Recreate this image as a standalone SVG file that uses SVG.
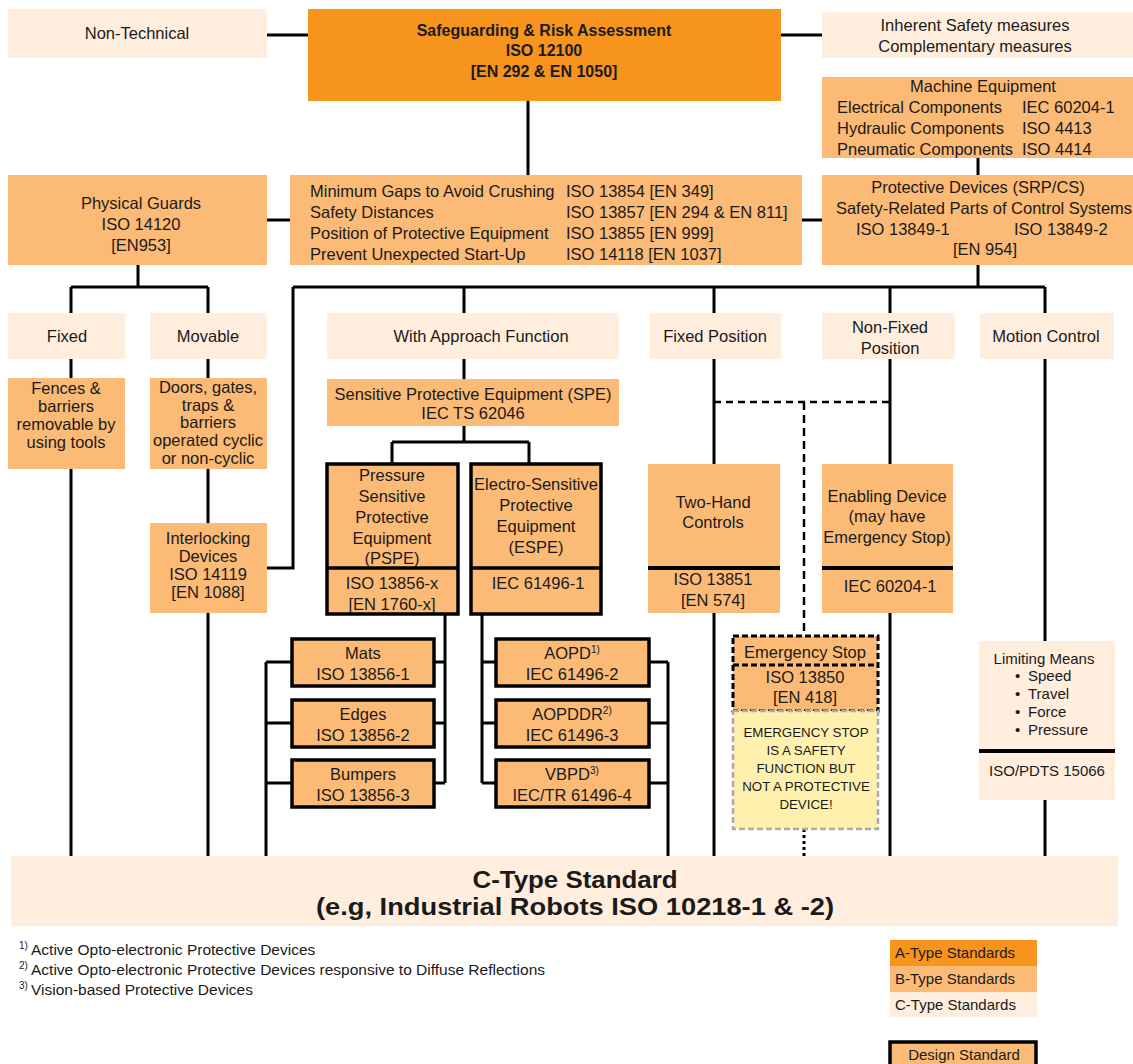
<svg xmlns="http://www.w3.org/2000/svg" width="1133" height="1064" viewBox="0 0 1133 1064">
<style>
.a{fill:#F7941E}
.b{fill:#FBBA76}
.c{fill:#FFEDDD}
.y{fill:#FFF1AD}
.t{font-family:"Liberation Sans",Arial,sans-serif;font-size:16.5px;fill:#1a1a1a}
.m{text-anchor:middle}
.bd{font-weight:bold;font-size:16px}
.ln{stroke:#000;stroke-width:3;fill:none}
.ds{stroke:#000;stroke-width:3.5}
.sup{font-size:10px}
.lg{font-size:15px}
</style>
<rect x="0" y="0" width="1133" height="1064" fill="#fff"/>
<g id="connectors">
<path class="ln" d="M267 35H308M781 35H822M528 101V175M978 158V175M267 220H290M802 220H822"/>
<path class="ln" d="M138 265V287M71 287H208M71 287V313M208 287V313"/>
<path class="ln" d="M978 265V287M293 287H1045M464 287V313M714 287V313M890 287V313M1045 287V313M293 287V568H267"/>
<path class="ln" d="M71 359V378M71 469V856M208 359V378M208 469V523M208 613V856"/>
<path class="ln" d="M464 359V379M464 426V442M392 442H529M392 442V464M529 442V464"/>
<path class="ln" d="M714 359V464M714 613V856M890 359V464M890 613V856M1045 359V641M1045 800V856"/>
<path class="ln" d="M445 614V783M434 662H445M434 723H445M434 783H445M266 662V856M266 662H292M266 723H292M266 783H292"/>
<path class="ln" d="M482 614V783M482 662H496M482 723H496M482 783H496M668 662V856M649 662H668M649 723H668M649 783H668"/>
<path d="M714 402H890" stroke="#000" stroke-width="2.5" stroke-dasharray="7,5" fill="none"/>
<path d="M804 402V636" stroke="#000" stroke-width="2.5" stroke-dasharray="8,5" fill="none"/>
<path d="M804 829V856" stroke="#000" stroke-width="3" stroke-dasharray="3,3" fill="none"/>
</g>
<g id="non-technical"><rect class="c" x="8" y="9" width="259" height="49"/><text class="t m" x="137" y="39">Non-Technical</text></g>
<g id="safeguarding"><rect class="a" x="308" y="9" width="473" height="92"/>
<text class="t m bd" x="544" y="36">Safeguarding &amp; Risk Assessment</text>
<text class="t m bd" x="544" y="56">ISO 12100</text>
<text class="t m bd" x="544" y="77">[EN 292 &amp; EN 1050]</text></g>
<g id="inherent"><rect class="c" x="822" y="12" width="311" height="46"/>
<text class="t m" x="975" y="31">Inherent Safety measures</text>
<text class="t m" x="975" y="52">Complementary measures</text></g>
<g id="machine-equipment"><rect class="b" x="822" y="77" width="311" height="81"/>
<text class="t m" x="983" y="92">Machine Equipment</text>
<text class="t" x="837" y="113">Electrical Components</text><text class="t" x="1022" y="113">IEC 60204-1</text>
<text class="t" x="837" y="134">Hydraulic Components</text><text class="t" x="1022" y="134">ISO 4413</text>
<text class="t" x="837" y="155">Pneumatic Components</text><text class="t" x="1022" y="155">ISO 4414</text></g>
<g id="physical-guards"><rect class="b" x="8" y="175" width="259" height="90"/>
<text class="t m" x="141" y="209">Physical Guards</text>
<text class="t m" x="141" y="230">ISO 14120</text>
<text class="t m" x="141" y="251">[EN953]</text></g>
<g id="min-gaps"><rect class="b" x="290" y="175" width="512" height="90"/>
<text class="t" x="310" y="197">Minimum Gaps to Avoid Crushing</text><text class="t" x="566" y="197">ISO 13854 [EN 349]</text>
<text class="t" x="310" y="218">Safety Distances</text><text class="t" x="566" y="218">ISO 13857 [EN 294 &amp; EN 811]</text>
<text class="t" x="310" y="239">Position of Protective Equipment</text><text class="t" x="566" y="239">ISO 13855 [EN 999]</text>
<text class="t" x="310" y="260">Prevent Unexpected Start-Up</text><text class="t" x="566" y="260">ISO 14118 [EN 1037]</text></g>
<g id="protective-devices"><rect class="b" x="822" y="175" width="311" height="90"/>
<text class="t m" x="978" y="193">Protective Devices (SRP/CS)</text>
<text class="t m" x="984" y="214">Safety-Related Parts of Control Systems</text>
<text class="t" x="856" y="235">ISO 13849-1</text><text class="t" x="1014" y="235">ISO 13849-2</text>
<text class="t m" x="985" y="255">[EN 954]</text></g>
<g id="fixed"><rect class="c" x="8" y="313" width="117" height="46"/><text class="t m" x="67" y="342">Fixed</text></g>
<g id="movable"><rect class="c" x="150" y="313" width="117" height="46"/><text class="t m" x="208" y="342">Movable</text></g>
<g id="with-approach"><rect class="c" x="327" y="313" width="292" height="46"/><text class="t m" x="481" y="342">With Approach Function</text></g>
<g id="fixed-position"><rect class="c" x="650" y="313" width="131" height="46"/><text class="t m" x="715" y="342">Fixed Position</text></g>
<g id="non-fixed-position"><rect class="c" x="822" y="313" width="133" height="46"/><text class="t m" x="890" y="333">Non-Fixed</text><text class="t m" x="890" y="354">Position</text></g>
<g id="motion-control"><rect class="c" x="980" y="313" width="134" height="46"/><text class="t m" x="1046" y="342">Motion Control</text></g>
<g id="fences"><rect class="b" x="8" y="378" width="117" height="91"/>
<text class="t m" x="66" y="394">Fences &amp;</text><text class="t m" x="66" y="412">barriers</text><text class="t m" x="66" y="430">removable by</text><text class="t m" x="66" y="448">using tools</text></g>
<g id="doors"><rect class="b" x="150" y="378" width="117" height="91"/>
<text class="t m" x="208" y="393">Doors, gates,</text><text class="t m" x="208" y="411">traps &amp;</text><text class="t m" x="208" y="428">barriers</text><text class="t m" x="208" y="446">operated cyclic</text><text class="t m" x="208" y="464">or non-cyclic</text></g>
<g id="interlocking"><rect class="b" x="150" y="523" width="117" height="90"/>
<text class="t m" x="208" y="544">Interlocking</text><text class="t m" x="208" y="562">Devices</text><text class="t m" x="208" y="580">ISO 14119</text><text class="t m" x="208" y="598">[EN 1088]</text></g>
<g id="spe"><rect class="b" x="327" y="379" width="292" height="47"/>
<text class="t m" x="473" y="400">Sensitive Protective Equipment (SPE)</text><text class="t m" x="473" y="419">IEC TS 62046</text></g>
<g id="pspe"><rect class="b ds" x="327" y="464" width="131" height="150"/><path class="ds" d="M327 568H458"/>
<text class="t m" x="392" y="481">Pressure</text><text class="t m" x="392" y="502">Sensitive</text><text class="t m" x="392" y="523">Protective</text><text class="t m" x="392" y="544">Equipment</text><text class="t m" x="392" y="564">(PSPE)</text>
<text class="t m" x="392" y="589">ISO 13856-x</text><text class="t m" x="392" y="610">[EN 1760-x]</text></g>
<g id="espe"><rect class="b ds" x="471" y="464" width="130" height="150"/><path class="ds" d="M471 568H601"/>
<text class="t m" x="536" y="490">Electro-Sensitive</text><text class="t m" x="536" y="511">Protective</text><text class="t m" x="536" y="532">Equipment</text><text class="t m" x="536" y="553">(ESPE)</text>
<text class="t m" x="538" y="589">IEC 61496-1</text></g>
<g id="mats"><rect class="b ds" x="292" y="639" width="142" height="47"/><text class="t m" x="363" y="659">Mats</text><text class="t m" x="363" y="680">ISO 13856-1</text></g>
<g id="edges"><rect class="b ds" x="292" y="700" width="142" height="47"/><text class="t m" x="363" y="720">Edges</text><text class="t m" x="363" y="741">ISO 13856-2</text></g>
<g id="bumpers"><rect class="b ds" x="292" y="760" width="142" height="47"/><text class="t m" x="363" y="780">Bumpers</text><text class="t m" x="363" y="801">ISO 13856-3</text></g>
<g id="aopd"><rect class="b ds" x="496" y="639" width="153" height="47"/><text class="t m" x="572" y="659">AOPD<tspan class="sup" dy="-6">1)</tspan></text><text class="t m" x="572" y="680">IEC 61496-2</text></g>
<g id="aopddr"><rect class="b ds" x="496" y="700" width="153" height="47"/><text class="t m" x="572" y="720">AOPDDR<tspan class="sup" dy="-6">2)</tspan></text><text class="t m" x="572" y="741">IEC 61496-3</text></g>
<g id="vbpd"><rect class="b ds" x="496" y="760" width="153" height="47"/><text class="t m" x="572" y="780">VBPD<tspan class="sup" dy="-6">3)</tspan></text><text class="t m" x="572" y="801">IEC/TR 61496-4</text></g>
<g id="two-hand"><rect class="b" x="648" y="464" width="132" height="149"/><rect x="648" y="566" width="132" height="4" fill="#000"/>
<text class="t m" x="713" y="508">Two-Hand</text><text class="t m" x="713" y="528">Controls</text>
<text class="t m" x="713" y="585">ISO 13851</text><text class="t m" x="713" y="606">[EN 574]</text></g>
<g id="enabling"><rect class="b" x="822" y="464" width="131" height="149"/><rect x="822" y="566" width="131" height="4" fill="#000"/>
<text class="t m" x="887" y="502">Enabling Device</text><text class="t m" x="887" y="522">(may have</text><text class="t m" x="887" y="543">Emergency Stop)</text>
<text class="t m" x="890" y="592">IEC 60204-1</text></g>
<g id="emergency-stop"><rect class="b" x="733" y="636" width="145" height="75" stroke="#000" stroke-width="3" stroke-dasharray="6,3"/>
<path d="M733 665H878" stroke="#000" stroke-width="3" stroke-dasharray="6,3"/>
<text class="t m" x="805" y="658">Emergency Stop</text><text class="t m" x="805" y="683">ISO 13850</text><text class="t m" x="805" y="703">[EN 418]</text></g>
<g id="es-note"><rect class="y" x="733" y="711" width="145" height="118" stroke="#aaa" stroke-width="2.5" stroke-dasharray="6,3"/>
<g class="t m" style="font-size:13.3px"><text x="806" y="737">EMERGENCY STOP</text><text x="806" y="755">IS A SAFETY</text><text x="806" y="773">FUNCTION BUT</text><text x="806" y="791">NOT A PROTECTIVE</text><text x="806" y="809">DEVICE!</text></g></g>
<g id="limiting"><rect class="c" x="979" y="641" width="136" height="159"/><rect x="979" y="749" width="136" height="4" fill="#000"/>
<g class="t" style="font-size:15px"><text class="m" x="1044" y="664">Limiting Means</text>
<text x="1015" y="681">•</text><text x="1028" y="681">Speed</text>
<text x="1015" y="699">•</text><text x="1028" y="699">Travel</text>
<text x="1015" y="717">•</text><text x="1028" y="717">Force</text>
<text x="1015" y="735">•</text><text x="1028" y="735">Pressure</text>
<text class="m" x="1047" y="776">ISO/PDTS 15066</text></g></g>
<g id="c-type"><rect class="c" x="11" y="856" width="1107" height="70"/>
<text class="t m" x="575" y="888" style="font-size:24px;font-weight:bold" textLength="205" lengthAdjust="spacingAndGlyphs">C-Type Standard</text>
<text class="t m" x="575" y="915" style="font-size:24px;font-weight:bold" textLength="518" lengthAdjust="spacingAndGlyphs">(e.g, Industrial Robots ISO 10218-1 &amp; -2)</text></g>
<g id="footnotes" class="t" style="font-size:15.5px">
<text x="19" y="949" class="sup">1)</text><text x="31" y="955">Active Opto-electronic Protective Devices</text>
<text x="19" y="969" class="sup">2)</text><text x="31" y="975">Active Opto-electronic Protective Devices responsive to Diffuse Reflections</text>
<text x="19" y="989" class="sup">3)</text><text x="31" y="995">Vision-based Protective Devices</text></g>
<g id="legend">
<rect class="a" x="890" y="940" width="147" height="26"/><text class="t lg" x="895" y="958">A-Type Standards</text>
<rect class="b" x="890" y="966" width="147" height="26"/><text class="t lg" x="895" y="984">B-Type Standards</text>
<rect class="c" x="890" y="992" width="147" height="25"/><text class="t lg" x="895" y="1010">C-Type Standards</text>
<rect class="b ds" x="890" y="1042" width="146" height="30"/><text class="t m lg" x="964" y="1060">Design Standard</text></g>
</svg>
